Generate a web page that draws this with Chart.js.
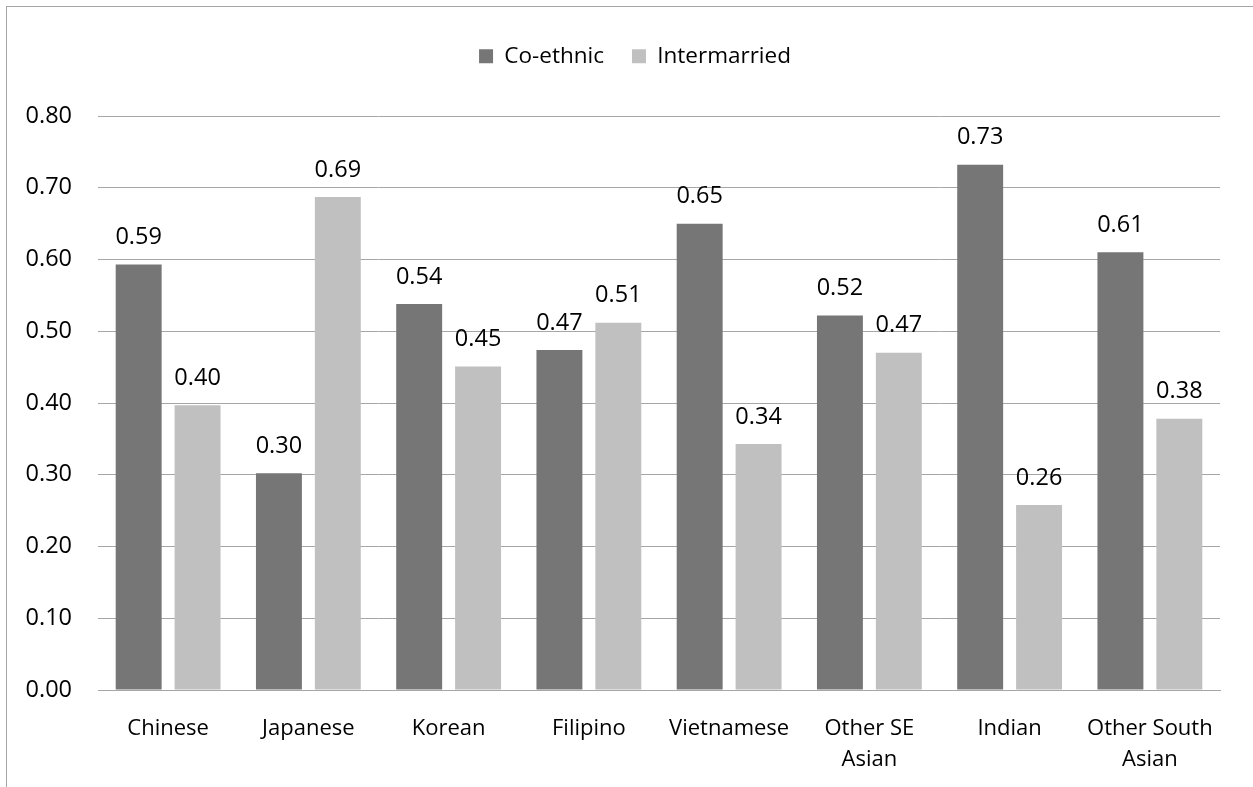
<!DOCTYPE html>
<html>
<head>
<meta charset="utf-8">
<script src="https://cdn.jsdelivr.net/npm/chart.js@4/dist/chart.umd.min.js"></script>
<style>
  html, body { margin: 0; padding: 0; background: #fff; overflow: hidden; }
  #frame { position: absolute; left: 6px; top: 6px; width: 1300px; height: 900px; border: 1px solid #a6a6a6; box-sizing: border-box; }
  #wrap { position: absolute; left: 0; top: 0; width: 1253px; height: 787px; }
</style>
</head>
<body>
<div id="frame"></div>
<div id="wrap"><canvas id="c" width="1253" height="787"></canvas></div>
<script>
const categories = ['Chinese', 'Japanese', 'Korean', 'Filipino', 'Vietnamese', ['Other SE', 'Asian'], 'Indian', ['Other South', 'Asian']];
const coEthnic = [0.593, 0.302, 0.538, 0.474, 0.650, 0.522, 0.732, 0.610];
const intermarried = [0.397, 0.687, 0.451, 0.512, 0.343, 0.470, 0.258, 0.378];
const seriesNames = ['Co-ethnic', 'Intermarried'];
const seriesColors = ['#767676', '#c0c0c0'];

const FONT = 'Open Sans';
const NUM_SIZE = 23.5;
const LEGEND_HEIGHT = 99;   // space reserved above the plot for the legend
const LEGEND_SHIFT = 25;    // horizontal nudge of the legend row

// value labels above each bar
const barValueLabels = {
  id: 'barValueLabels',
  afterDatasetsDraw(chart) {
    const ctx = chart.ctx;
    ctx.save();
    ctx.font = NUM_SIZE + 'px "' + FONT + '"';
    ctx.fillStyle = '#000';
    ctx.textAlign = 'center';
    ctx.textBaseline = 'middle';
    chart.data.datasets.forEach((ds, i) => {
      chart.getDatasetMeta(i).data.forEach((bar, j) => {
        ctx.fillText(ds.data[j].toFixed(2), bar.x, bar.y - 27);
      });
    });
    ctx.restore();
  }
};

// fixed legend height and position
const legendBox = {
  id: 'legendBox',
  beforeInit(chart) {
    const lg = chart.legend;
    const origFit = lg.fit;
    lg.fit = function () {
      origFit.call(this);
      this.height = LEGEND_HEIGHT;
    };
  },
  afterLayout(chart) {
    chart.legend.left += LEGEND_SHIFT;
    chart.legend.right += LEGEND_SHIFT;
  }
};

new Chart(document.getElementById('c'), {
  type: 'bar',
  data: {
    labels: categories,
    datasets: [
      { label: seriesNames[0], data: coEthnic, backgroundColor: seriesColors[0] },
      { label: seriesNames[1], data: intermarried, backgroundColor: seriesColors[1] }
    ]
  },
  options: {
    responsive: false,
    animation: false,
    devicePixelRatio: 1,
    layout: { padding: { top: 17, right: 33, bottom: 0, left: 0 } },
    datasets: { bar: { categoryPercentage: 0.84, barPercentage: 0.78 } },
    plugins: {
      legend: {
        position: 'top',
        labels: {
          boxWidth: 14, boxHeight: 14, padding: 28,
          color: '#000',
          font: { family: FONT, size: 22.5 }
        }
      },
      tooltip: { enabled: false }
    },
    scales: {
      x: {
        grid: { display: false, drawTicks: false },
        border: { display: true, color: '#a6a6a6', width: 1 },
        ticks: { color: '#000', padding: 23, maxRotation: 0, autoSkip: false,
                  font: { family: FONT, size: 22, lineHeight: 1.41 } },
        afterFit(s) { s.height = 97; }
      },
      y: {
        min: 0, max: 0.8,
        grid: { color: '#a6a6a6', drawTicks: false },
        border: { display: false },
        ticks: { stepSize: 0.1, padding: 26, color: '#000',
                 font: { family: FONT, size: NUM_SIZE },
                 callback: v => v.toFixed(2) },
        afterFit(s) { s.width = 98; }
      }
    }
  },
  plugins: [barValueLabels, legendBox]
});
</script>
</body>
</html>
